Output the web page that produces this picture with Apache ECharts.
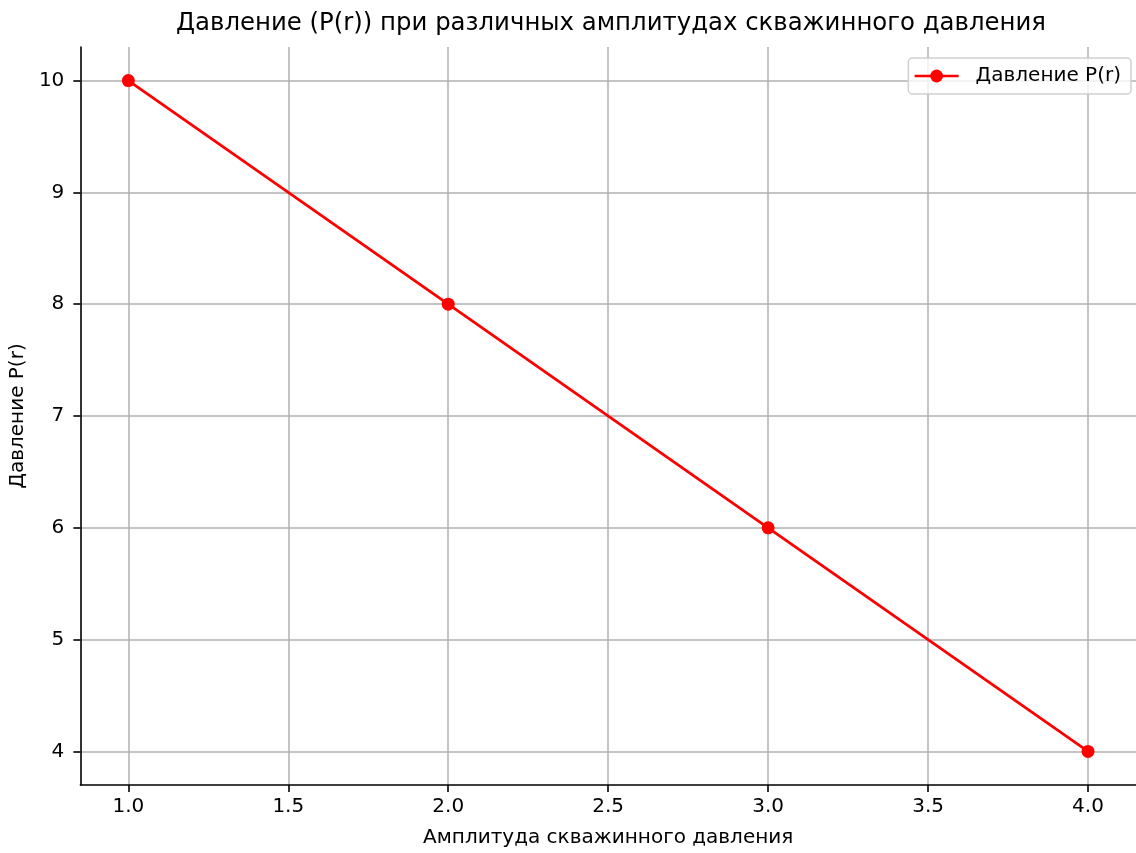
<!DOCTYPE html>
<html><head><meta charset="utf-8">
<script src="https://cdn.jsdelivr.net/npm/echarts@6/dist/echarts.min.js"></script>
<style>html,body{margin:0;padding:0;background:#fff}#c{width:1136px;height:853px}</style>
</head><body><div id="c"></div>
<script>
const amplitudes = [1.0, 2.0, 3.0, 4.0];
const pressures = [10, 8, 6, 4];
const xTicks = [1.0, 1.5, 2.0, 2.5, 3.0, 3.5, 4.0];
const yTicks = [4, 5, 6, 7, 8, 9, 10];
const titleText = 'Давление (P(r)) при различных амплитудах скважинного давления';
const xLabel = 'Амплитуда скважинного давления';
const yLabel = 'Давление P(r)';
const seriesName = 'Давление P(r)';

const font = 'DejaVu Sans';
const chart = echarts.init(document.getElementById('c'));
chart.setOption({
  animation: false,
  backgroundColor: '#fff',
  title: {
    text: titleText, left: 611, top: 12, textAlign: 'center', padding: 0,
    textStyle: {fontFamily: font, fontSize: 24.4, fontWeight: 'normal', color: '#000'}
  },
  legend: {
    data: [seriesName], right: 5, top: 58,
    itemWidth: 44, itemHeight: 16, itemGap: 10,
    padding: [8, 10, 8, 5],
    backgroundColor: 'rgba(255,255,255,0.8)',
    borderColor: '#d0d0d0', borderWidth: 1.5, borderRadius: 4,
    lineStyle: {width: 2.6},
    textStyle: {fontFamily: font, fontSize: 20, color: '#000', padding: [0,0,0,12]}
  },
  grid: {left: 80, top: 47, width: 1062, height: 743, containLabel: false},
  xAxis: {
    type: 'value', min: 0.85, max: 4.15,
    name: xLabel, nameLocation: 'middle', nameGap: 43,
    nameTextStyle: {fontFamily: font, fontSize: 20, color: '#000'},
    axisLine: {show: true, onZero: false, lineStyle: {color: '#000', width: 1.6}},
    axisTick: {show: true, length: 7, customValues: xTicks, lineStyle: {color: '#000', width: 1.6}},
    axisLabel: {customValues: xTicks, margin: 12, fontFamily: font, fontSize: 20, color: '#000',
      formatter: v => v.toFixed(1)},
    splitLine: {show: true, lineStyle: {color: '#b0b0b0', width: 1.5}}
  },
  yAxis: {
    type: 'value', min: 3.7, max: 10.3,
    name: yLabel, nameLocation: 'middle', nameGap: 48, nameRotate: 90,
    nameTextStyle: {fontFamily: font, fontSize: 20, color: '#000'},
    axisLine: {show: true, onZero: false, lineStyle: {color: '#000', width: 1.6}},
    axisTick: {show: true, length: 7, customValues: yTicks, lineStyle: {color: '#000', width: 1.6}},
    axisLabel: {customValues: yTicks, margin: 16, fontFamily: font, fontSize: 20, color: '#000'},
    splitLine: {show: true, lineStyle: {color: '#b0b0b0', width: 1.5}}
  },
  series: [{
    name: seriesName, type: 'line',
    data: amplitudes.map((a, i) => [a, pressures[i]]),
    symbol: 'circle', symbolSize: 13,
    lineStyle: {color: '#ff0000', width: 2.8},
    itemStyle: {color: '#ff0000'},
    z: 5
  }]
});
</script></body></html>
